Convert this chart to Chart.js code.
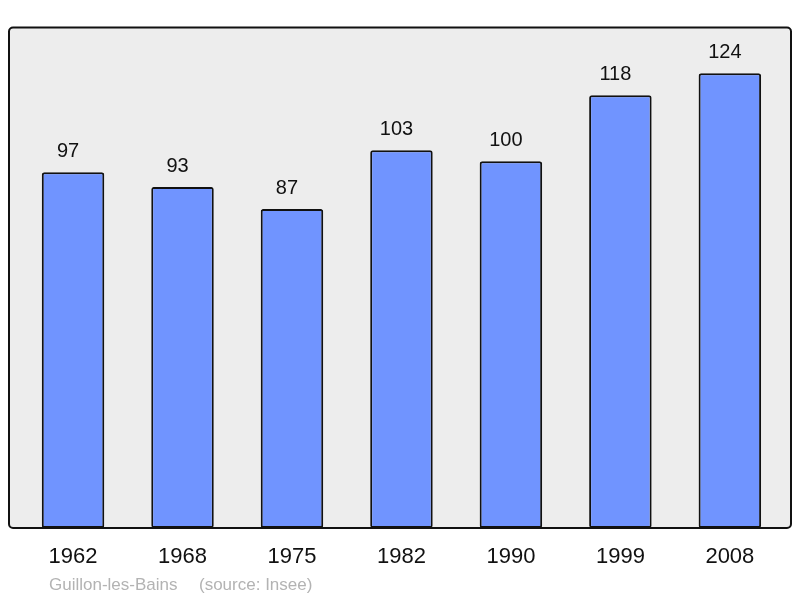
<!DOCTYPE html>
<html>
<head>
<meta charset="utf-8">
<script src="https://cdn.jsdelivr.net/npm/chart.js@4"></script>
<style>
  html, body { margin: 0; padding: 0; background: #fff; }
  #wrap { width: 800px; height: 598px; }
</style>
</head>
<body>
<div id="wrap"><canvas id="grafica" width="800" height="598"></canvas></div>
<script>
// datos de la grafica
const annees = ["1962", "1968", "1975", "1982", "1990", "1999", "2008"];
const population = [97, 93, 87, 103, 100, 118, 124];
const commune = "Guillon-les-Bains";
const source = "(source: Insee)";

const fontFam = "'Liberation Sans', Arial, sans-serif";

// fondo gris con borde redondeado
const fondo = {
    id: "fondo",
    beforeDraw(chart) {
        const ctx = chart.ctx;
        ctx.save();
        ctx.beginPath();
        ctx.roundRect(9, 27.5, 782, 500.5, 4);
        ctx.fillStyle = "#ededed";
        ctx.fill();
        ctx.restore();
    },
    afterDraw(chart) {
        const ctx = chart.ctx;
        ctx.save();
        ctx.beginPath();
        ctx.roundRect(9, 27.5, 782, 500.5, 4);
        ctx.lineWidth = 2;
        ctx.strokeStyle = "#111";
        ctx.stroke();
        // pie de grafica
        ctx.font = "17px " + fontFam;
        ctx.fillStyle = "#b3b3b3";
        ctx.textBaseline = "alphabetic";
        ctx.fillText(commune, 49, 590);
        ctx.fillText(source, 199, 590);
        ctx.restore();
    }
};

// etiquetas de valor encima de cada barra
const etiquetas = {
    id: "etiquetas",
    afterDatasetsDraw(chart) {
        const ctx = chart.ctx;
        const meta = chart.getDatasetMeta(0);
        ctx.save();
        ctx.font = "20px " + fontFam;
        ctx.fillStyle = "#111";
        ctx.textAlign = "center";
        ctx.textBaseline = "alphabetic";
        meta.data.forEach((bar, i) => {
            ctx.fillText(population[i], bar.x - 5, bar.y - 15);
        });
        ctx.restore();
    }
};

new Chart(document.getElementById("grafica"), {
    type: "bar",
    data: {
        labels: annees,
        datasets: [{
            data: population,
            backgroundColor: "#7094ff",
            borderColor: "#111",
            borderWidth: 2,
            borderRadius: 2.5,
            borderSkipped: false,
            barPercentage: 0.571,
            categoryPercentage: 1
        }]
    },
    options: {
        responsive: false,
        animation: false,
        layout: { padding: { left: 18.3, right: 15.4, top: 27, bottom: 0 } },
        plugins: { legend: { display: false }, tooltip: { enabled: false } },
        scales: {
            x: {
                grid: { display: false, drawTicks: false },
                border: { display: false },
                ticks: {
                    color: "#111",
                    font: { family: fontFam, size: 22 },
                    padding: 16,
                    maxRotation: 0
                },
                afterFit(scale) { scale.height = 70; }
            },
            y: {
                display: false,
                min: 0,
                max: 136.6
            }
        }
    },
    plugins: [fondo, etiquetas]
});
</script>
</body>
</html>
